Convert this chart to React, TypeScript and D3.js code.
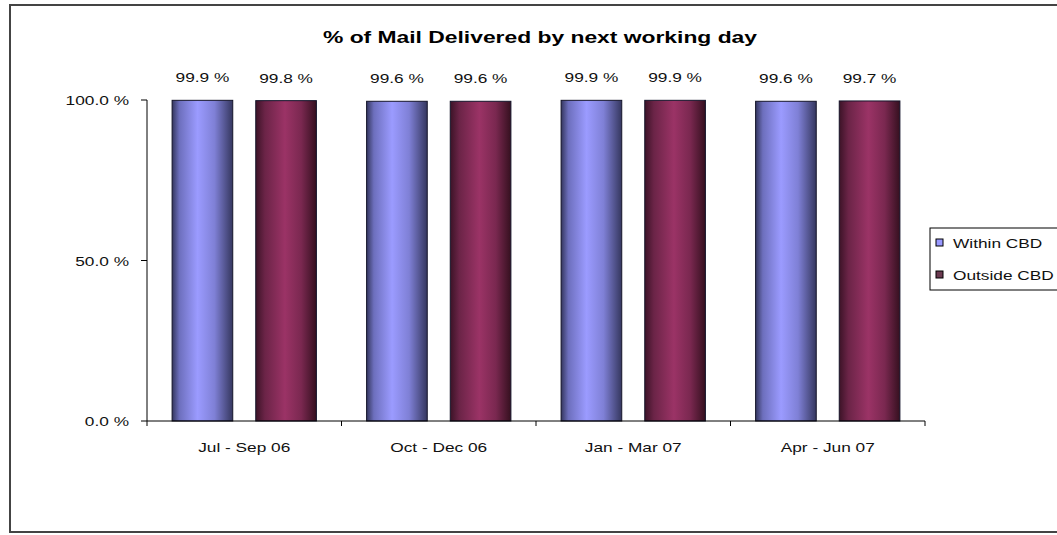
import React, { useEffect, useRef } from 'react';
import * as d3 from 'd3';

const quarters = ['Jul - Sep 06', 'Oct - Dec 06', 'Jan - Mar 07', 'Apr - Jun 07'];
const seriesNames = ['Within CBD', 'Outside CBD'];
const withinCBD = [99.9, 99.6, 99.9, 99.6];
const outsideCBD = [99.8, 99.6, 99.9, 99.7];
const yTicks = [0, 50, 100];

const App = () => {
  const ref = useRef<SVGSVGElement | null>(null);

  useEffect(() => {
    const svg = d3.select(ref.current);
    svg.selectAll('*').remove();

    const W = 1057;
    const H = 535;
    const font = 'Arial, "Liberation Sans", sans-serif';
    const stretch = 1.33; // the source image is stretched sideways

    // plot area
    const left = 147;
    const right = 925;
    const top = 100;
    const bottom = 421;

    const values = [withinCBD, outsideCBD];
    const rows = quarters.map((q, i) => ({
      q,
      vals: seriesNames.map((s, j) => ({ s, v: values[j][i] }))
    }));

    const x0 = d3.scaleBand().domain(quarters).range([left, right]).padding(0);
    const x1 = d3.scaleBand()
      .domain(seriesNames)
      .range([0, x0.bandwidth()])
      .paddingInner(0.275)
      .paddingOuter(0.3);
    const y = d3.scaleLinear().domain([0, 100]).range([bottom, top]);

    // text helper: stretched horizontally like the original
    const label = (parent: any, x: number, yy: number, txt: string, anchor = 'start', size = 13) =>
      parent.append('text')
        .attr('transform', `translate(${x},${yy}) scale(${stretch},1)`)
        .attr('text-anchor', anchor)
        .style('font-family', font)
        .style('font-size', `${size}px`)
        .attr('fill', '#111')
        .text(txt);

    // gradients
    const defs = svg.append('defs');
    const grads = [
      { id: 'g-within', stops: [['0%', '#34365e'], ['12%', '#6d6fbd'], ['42%', '#9b9bff'], ['70%', '#7f80d6'], ['100%', '#35375f']] },
      { id: 'g-outside', stops: [['0%', '#3c1327'], ['15%', '#6b2447'], ['48%', '#9b3366'], ['75%', '#7a2850'], ['100%', '#35101f']] }
    ];
    grads.forEach(g => {
      const lg = defs.append('linearGradient').attr('id', g.id)
        .attr('x1', '0%').attr('x2', '100%').attr('y1', '0%').attr('y2', '0%');
      g.stops.forEach(([o, c]) => lg.append('stop').attr('offset', o).attr('stop-color', c));
    });
    const fillFor = (s: string) => s === seriesNames[0] ? 'url(#g-within)' : 'url(#g-outside)';
    const swatch = ['#9999ff', '#6b3a50'];

    svg.append('rect').attr('width', W).attr('height', H).attr('fill', '#fff');

    // chart frame
    svg.append('rect')
      .attr('x', 10).attr('y', 5)
      .attr('width', 1070).attr('height', 527)
      .attr('fill', '#fff')
      .attr('stroke', '#444')
      .attr('stroke-width', 2);

    // title
    svg.append('text')
      .attr('x', 323)
      .attr('y', 43)
      .attr('textLength', 434)
      .attr('lengthAdjust', 'spacingAndGlyphs')
      .style('font-family', font)
      .style('font-size', '16px')
      .style('font-weight', 'bold')
      .text('% of Mail Delivered by next working day');

    // bars
    const g = svg.append('g');
    const groups = g.selectAll('g.grp')
      .data(rows)
      .enter()
      .append('g')
      .attr('transform', d => `translate(${x0(d.q)},0)`);

    groups.selectAll('rect')
      .data(d => d.vals)
      .enter()
      .append('rect')
      .attr('x', d => x1(d.s)!)
      .attr('y', d => y(d.v))
      .attr('width', x1.bandwidth())
      .attr('height', d => y(0) - y(d.v))
      .attr('fill', d => fillFor(d.s))
      .attr('stroke', '#14142a')
      .attr('stroke-width', 1);

    groups.each(function (d) {
      const grp = d3.select(this);
      d.vals.forEach(v => {
        label(grp, x1(v.s)! + x1.bandwidth() / 2, y(v.v) - 18, `${v.v.toFixed(1)} %`, 'middle');
      });
    });

    // y axis
    svg.append('line')
      .attr('x1', left).attr('x2', left)
      .attr('y1', top).attr('y2', bottom)
      .attr('stroke', '#000');
    yTicks.forEach(t => {
      svg.append('line')
        .attr('x1', left - 6).attr('x2', left)
        .attr('y1', y(t)).attr('y2', y(t))
        .attr('stroke', '#000');
      label(svg, left - 18, y(t) + 5, `${t.toFixed(1)} %`, 'end');
    });

    // x axis
    svg.append('line')
      .attr('x1', left).attr('x2', right)
      .attr('y1', bottom).attr('y2', bottom)
      .attr('stroke', '#000');
    [...quarters.map(q => x0(q)!), right].forEach(xx => {
      svg.append('line')
        .attr('x1', xx).attr('x2', xx)
        .attr('y1', bottom).attr('y2', bottom + 5)
        .attr('stroke', '#000');
    });
    quarters.forEach(q => {
      label(svg, x0(q)! + x0.bandwidth() / 2, 452, q, 'middle');
    });

    // legend
    const lg = svg.append('g').attr('transform', 'translate(930,228)');
    lg.append('rect')
      .attr('width', 140).attr('height', 62)
      .attr('fill', '#fff')
      .attr('stroke', '#000')
      .attr('stroke-width', 1);
    seriesNames.forEach((s, i) => {
      const yy = 15 + i * 32;
      lg.append('rect')
        .attr('x', 6).attr('y', yy - 4)
        .attr('width', 7).attr('height', 7)
        .attr('fill', swatch[i])
        .attr('stroke', '#000');
      label(lg, 23, yy + 5, s);
    });
  }, []);

  return (
    <svg
      ref={ref}
      width={1057}
      height={535}
      style={{ position: 'absolute', top: 0, left: 0 }}
    />
  );
};

export default App;
